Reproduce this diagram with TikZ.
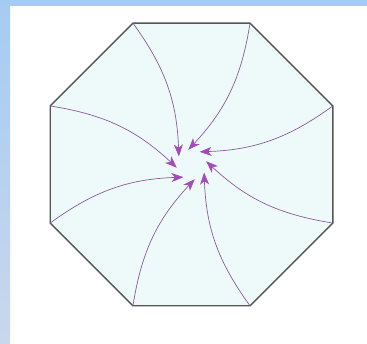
\documentclass[tikz,border=0pt]{standalone}
\usepackage{tikz}
\usetikzlibrary{
	arrows.meta,
	calc,
	shapes.geometric
}
\usepackage{xcolor}
\definecolor{bandblue}{RGB}{166,203,242}
\definecolor{bandpale}{RGB}{201,215,236}
\definecolor{octfill}{RGB}{238,250,250}
\definecolor{octedge}{RGB}{85,85,85}
\definecolor{flowline}{RGB}{140,90,155}
\definecolor{flowtip}{RGB}{165,75,185}

\begin{document}
\begin{tikzpicture}[x=1pt,y=1pt,
	flow/.style={flowline,line width=0.7pt,-{Stealth[length=12pt,width=9pt,inset=3.5pt,flowtip]}}]
	
	% Background
	\useasboundingbox (0,0) rectangle (367,344);
	\fill[white] (0,0) rectangle (367,344);
	\shade[top color=bandblue,bottom color=bandpale] (0,0) rectangle (10,344);
	\fill[bandblue] (0,338) rectangle (367,344);
	
	% Octagon
	\node[regular polygon,regular polygon sides=8,minimum size=306pt,inner sep=0pt,outer sep=0pt,
		draw=octedge,line width=1.3pt,fill=octfill] (oct) at (191.5,179.5) {};
	
	% Flow arrows
	\foreach \i in {1,...,8}
	{
		\pgfmathsetmacro{\a}{112.5+45*(\i-1)-10}
		\coordinate (tip\i) at ($(oct.center)+(\a:15)$);
		\draw[flow] (oct.corner \i) to[bend left=17] (tip\i);
	}
	
\end{tikzpicture}
\end{document}
